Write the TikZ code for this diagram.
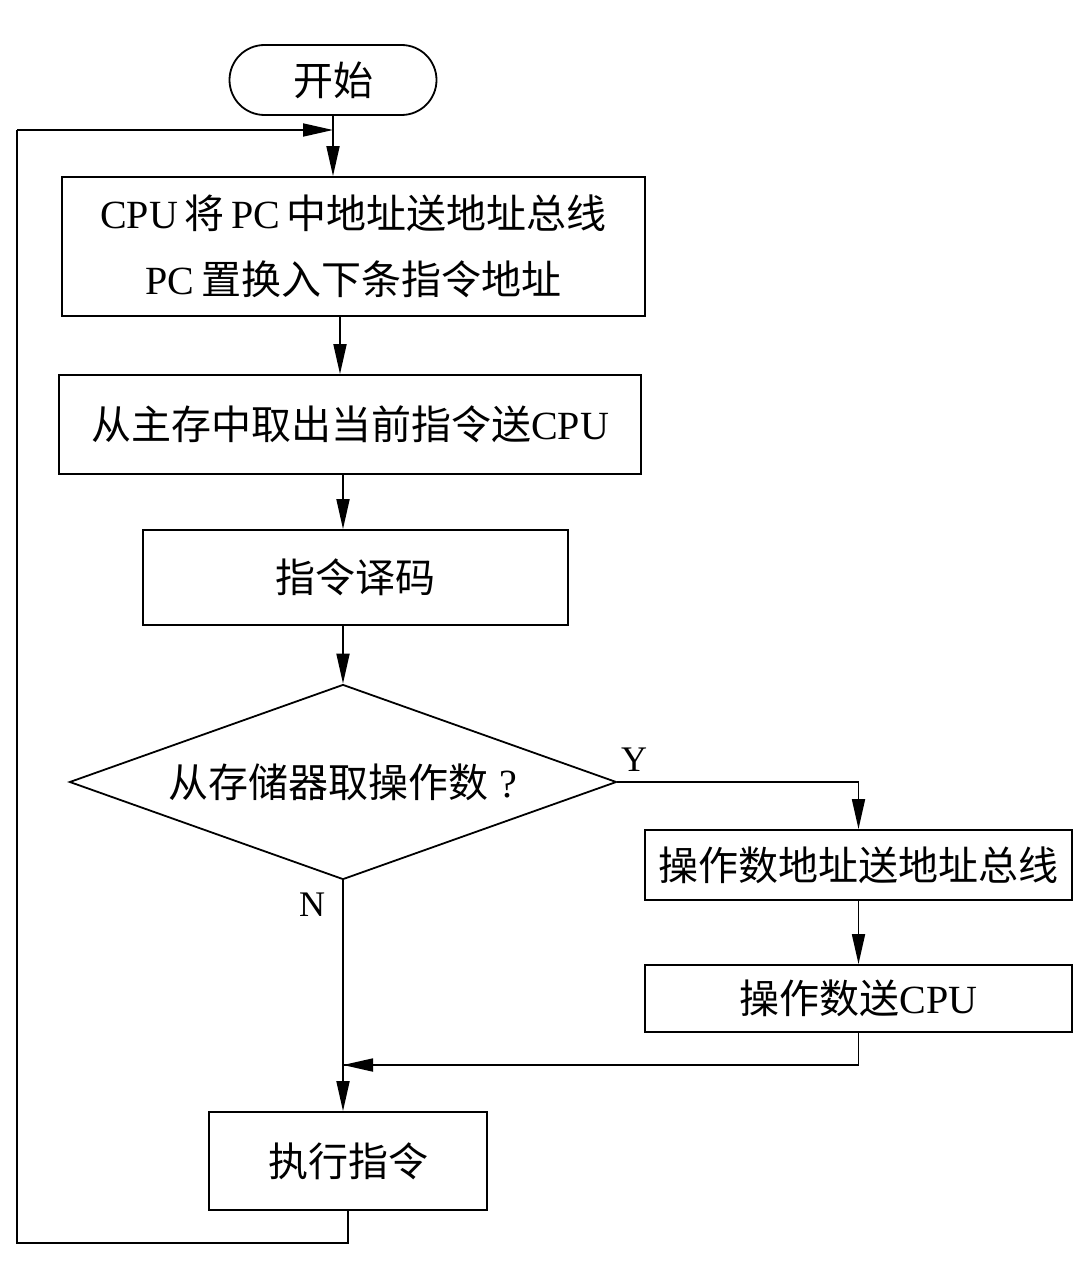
\documentclass[tikz,border=0pt]{standalone}
\usepackage{fontspec}
\setmainfont{Liberation Serif}
\newfontfamily\cjk{Noto Sans CJK SC}
\usetikzlibrary{shapes.geometric,shapes.misc,arrows.meta}
\newcommand{\zh}[1]{{\cjk #1}}
\begin{document}
\begin{tikzpicture}[x=1pt,y=-1pt,
  every node/.style={font=\fontsize{40}{66}\selectfont, inner sep=0pt},
  box/.style={draw, line width=1.8pt, rectangle, align=center},
  term/.style={draw, line width=1.8pt, rounded rectangle},
  dec/.style={draw, line width=1.8pt, diamond, aspect=2.8},
  conn/.style={line width=1.8pt},
  arr/.style={conn, -{Triangle[length=30pt,width=13pt]}},
  lbl/.style={font=\fontsize{36}{40}\selectfont}]
\useasboundingbox (0,0) rectangle (1080,1271);
\node[term, minimum width=207, minimum height=70] (start) at (333,80) {\zh{开始}};
\node[box, minimum width=583, minimum height=139] (b1) at (353.5,246.5)
  {CPU\,\zh{将}\,PC\,\zh{中地址送地址总线}\\PC\,\zh{置换入下条指令地址}};
\node[box, minimum width=582, minimum height=99] (b2) at (350,424.5) {\zh{从主存中取出当前指令送}CPU};
\node[box, minimum width=425, minimum height=95] (b3) at (355.5,577.5) {\zh{指令译码}};
\node[dec, minimum width=547, minimum height=195] (d) at (343,782) {\zh{从存储器取操作数}\;?};
\node[box, minimum width=427, minimum height=70] (b4) at (858.5,865) {\zh{操作数地址送地址总线}};
\node[box, minimum width=427, minimum height=67] (b5) at (858.5,998.5) {\zh{操作数送}CPU};
\node[box, minimum width=278, minimum height=98] (b6) at (348,1161) {\zh{执行指令}};
\node[lbl] (ylab) at (634,760) {Y};
\node[lbl] (nlab) at (312,905) {N};
\coordinate (merge) at (343,1065);
\coordinate (loopB) at (17,1243);
\coordinate (loopT) at (17,130);
\draw[arr] (start.south) -- (start.south |- b1.north);
\draw[arr] (b1.south -| 340,0) -- (b2.north -| 340,0);
\draw[arr] (b2.south -| d.north) -- (b3.north -| d.north);
\draw[arr] (b3.south -| d.north) -- (d.north);
\draw[arr] (d.east) -| (b4.north);
\draw[arr] (b4.south) -- (b5.north);
\draw[conn] (b5.south) |- (merge);
\draw[arr] (b5.south |- merge) -- (merge);
\draw[arr] (d.south) -- (d.south |- b6.north);
\draw[conn] (b6.south) |- (loopB) -- (loopT);
\draw[arr] (loopT) -- (loopT -| start.south);
\end{tikzpicture}
\end{document}
